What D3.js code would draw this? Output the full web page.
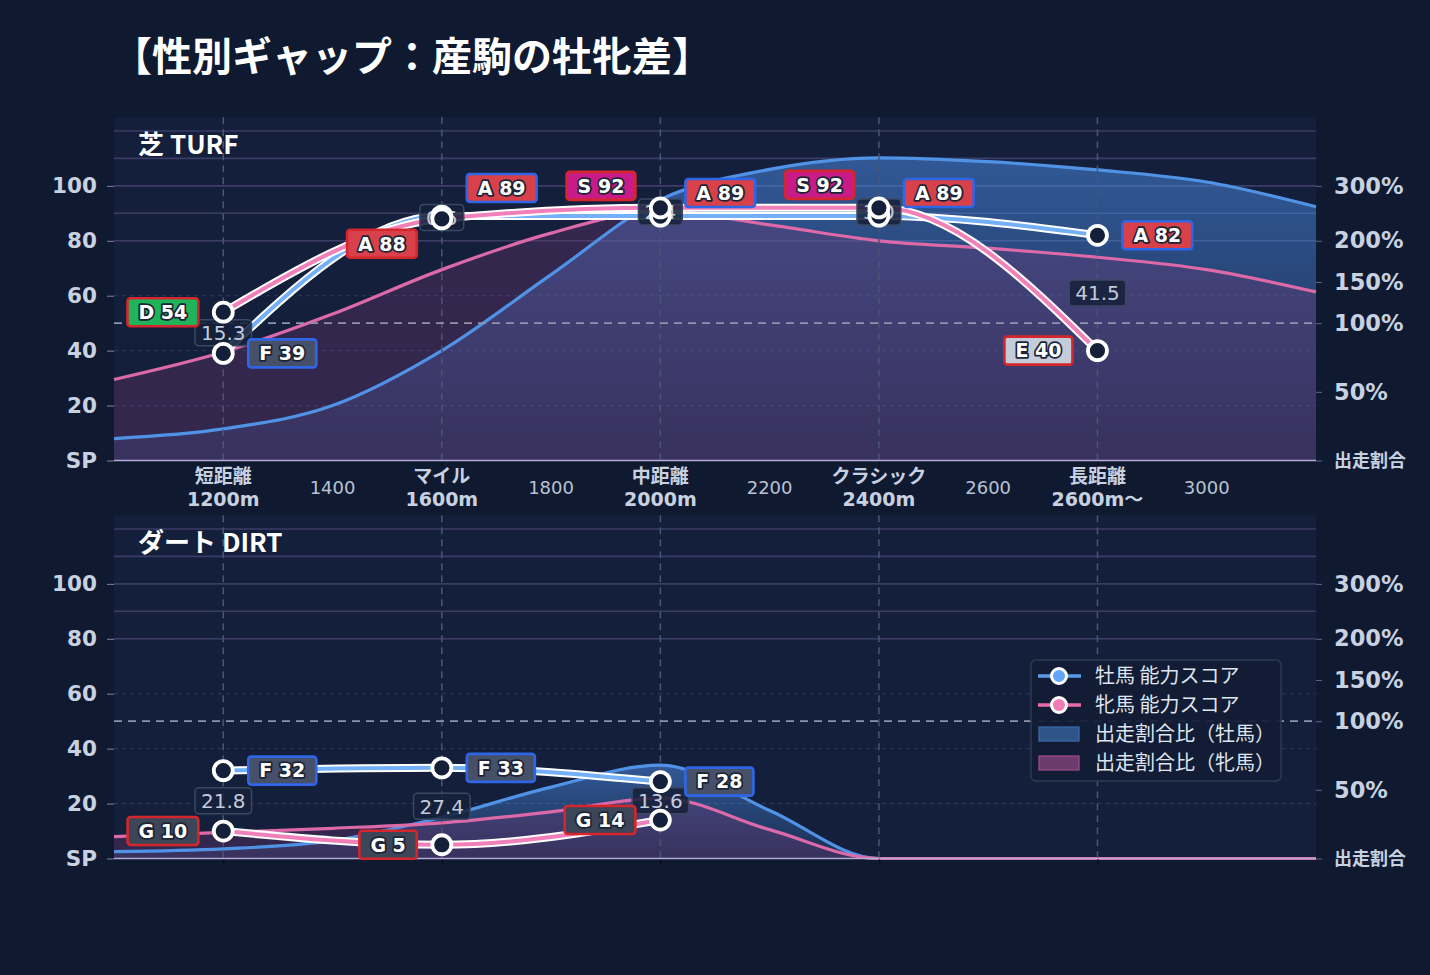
<!DOCTYPE html>
<html><head><meta charset="utf-8">
<script src="https://cdn.jsdelivr.net/npm/d3@7"></script>
<style>
html,body{margin:0;padding:0;background:#0f1a30;}
svg{display:block;}
</style></head>
<body><svg id="chart" width="1430" height="975"></svg>
<script>
// ---------------- DATA ----------------
const categoryDistances = [1200, 1600, 2000, 2400, 2800];
const categoryNames = ["短距離", "マイル", "中距離", "クラシック", "長距離"];
const categoryDistLabels = ["1200m", "1600m", "2000m", "2400m", "2600m〜"];
const minorTicks = [1400, 1800, 2200, 2600, 3000];
const leftTicks = [0, 20, 40, 60, 80, 100];
const leftTickLabels = ["SP", "20", "40", "60", "80", "100"];
const rightTicks = [0, 50, 100, 150, 200, 300];
const rightTickLabels = ["出走割合", "50%", "100%", "150%", "200%", "300%"];
const rightGridTicks = [200, 250, 300, 350, 400];

const turfMaleScore = [39, 89, 89, 89, 82];
const turfMaleGrade = ["F", "A", "A", "A", "A"];
const turfFemaleScore = [54, 88, 92, 92, 40];
const turfFemaleGrade = ["D", "A", "S", "S", "E"];
const turfGap = ["15.3", "0.5", "2.4", "3.0", "41.5"];

const dirtMaleScore = [32, 33, 28, null, null];
const dirtMaleGrade = ["F", "F", "F", null, null];
const dirtFemaleScore = [10, 5, 14, null, null];
const dirtFemaleGrade = ["G", "G", "G", null, null];
const dirtGap = ["21.8", "27.4", "13.6", null, null];

// share ratio (%) read along the distance axis
const shareDistances = [1000, 1200, 1400, 1600, 1800, 2000, 2200, 2400, 2600, 2800, 3000, 3200];
const turfMaleShare = [16, 23, 40, 80, 159, 275, 330, 351, 344, 329, 307, 262];
const turfFemaleShare = [59, 79, 111, 165, 214, 254, 229, 200, 191, 180, 165, 138];
const dirtMaleShare = [5, 7, 13, 30, 52, 68, 35, 0, 0, 0, 0, 0];
const dirtFemaleShare = [16, 19, 22, 26, 34, 44, 21, 0, 0, 0, 0, 0];

const legendLabels = ["牡馬 能力スコア", "牝馬 能力スコア", "出走割合比（牡馬）", "出走割合比（牝馬）"];

// ---------------- LAYOUT / STYLE ----------------
const W = 1430, H = 975;
const PL = 114, PR = 1316;
const FONT_NUM = "'DejaVu Sans', 'Noto Sans CJK JP', sans-serif";
const FONT_JP = "'Noto Sans CJK JP', 'Noto Sans', sans-serif";
const gradeFill = { S: "#c81b88", A: "#d8404a", D: "#1fb45a", E: "#c5ccd9", F: "#465069", G: "#3d4558" };
const MALE_BORDER = "#2f66e8", FEMALE_BORDER = "#d4262c";
const MALE_LINE = "#74b0f7", FEMALE_LINE = "#f17fb9";
const AXIS_TEXT = "#c8d1e0";

const svg = d3.select("#chart");
svg.append("rect").attr("width", W).attr("height", H).attr("fill", "#0f1a30");

const defs = svg.append("defs");
const mg = defs.append("linearGradient").attr("id", "maleGrad").attr("x1", 0).attr("y1", 0).attr("x2", 0).attr("y2", 1);
mg.append("stop").attr("offset", "0%").attr("stop-color", "#4a88e0").attr("stop-opacity", 0.55);
mg.append("stop").attr("offset", "100%").attr("stop-color", "#4a88e0").attr("stop-opacity", 0.14);

svg.append("text").attr("x", 112).attr("y", 71)
  .attr("font-family", FONT_JP).attr("font-weight", 700).attr("font-size", 40)
  .attr("fill", "#ffffff").text("【性別ギャップ：産駒の牡牝差】");

const x = d3.scaleLinear().domain([1000, 3200]).range([PL, PR]);
const shareToUnit = d3.scaleLinear().domain([0, 100, 200, 400]).range([0, 50, 80, 120]);

function gradeLabel(g, cx, cy, text, grade, border, anchorLeft) {
  const grp = g.append("g");
  const t = grp.append("text").attr("font-family", FONT_NUM).attr("font-weight", 700)
    .attr("font-size", 19).attr("fill", "#fff").attr("stroke", "#1c2436").attr("stroke-width", 3.5)
    .attr("stroke-linejoin", "round").attr("paint-order", "stroke").attr("dy", "0.36em").text(text);
  const w = t.node().getComputedTextLength() + 22;
  const bx = anchorLeft ? cx : cx - w;
  grp.insert("rect", "text").attr("x", bx).attr("y", cy - 14).attr("width", w).attr("height", 28)
    .attr("rx", 3).attr("fill", gradeFill[grade]).attr("stroke", border).attr("stroke-width", 2.6);
  t.attr("x", bx + w / 2).attr("y", cy).attr("text-anchor", "middle");
}

function drawPanel(p) {
  const g = svg.append("g");
  const y = d3.scaleLinear().domain([0, 125]).range([p.bottom, p.top]);
  const yRight = d3.scaleLinear().domain(shareToUnit.domain()).range(shareToUnit.range().map(y));

  g.append("rect").attr("x", PL).attr("y", p.top).attr("width", PR - PL).attr("height", p.bottom - p.top)
    .attr("fill", "#131f3b");

  g.selectAll(".lg").data(leftTicks.filter(d => d > 0)).join("line")
    .attr("x1", PL).attr("x2", PR).attr("y1", d => y(d)).attr("y2", d => y(d))
    .attr("stroke", "#2e3c5c").attr("stroke-width", 1).attr("stroke-dasharray", "4,4");
  g.selectAll(".rg").data(rightGridTicks).join("line")
    .attr("x1", PL).attr("x2", PR).attr("y1", d => yRight(d)).attr("y2", d => yRight(d))
    .attr("stroke", "#3b3d66").attr("stroke-width", 1.6);

  const area = d3.area().x(d => x(d.d)).y0(y(0)).y1(d => yRight(d.s)).curve(d3.curveMonotoneX);
  const line = d3.line().x(d => x(d.d)).y(d => yRight(d.s)).curve(d3.curveMonotoneX);
  const mData = shareDistances.map((d, i) => ({ d, s: p.maleShare[i] }));
  const fData = shareDistances.map((d, i) => ({ d, s: p.femaleShare[i] }));
  g.append("path").attr("d", area(mData)).attr("fill", "url(#maleGrad)");
  g.append("path").attr("d", area(fData)).attr("fill", "#6e3773").attr("fill-opacity", 0.36);
  g.append("path").attr("d", line(mData)).attr("fill", "none").attr("stroke", "#5093e6").attr("stroke-width", 3.2);
  g.append("path").attr("d", line(fData)).attr("fill", "none").attr("stroke", "#dc69a8").attr("stroke-width", 3.2);

  g.selectAll(".vl").data(categoryDistances).join("line")
    .attr("x1", d => x(d)).attr("x2", d => x(d)).attr("y1", p.top).attr("y2", p.bottom)
    .attr("stroke", "#4a5573").attr("stroke-width", 1.5).attr("stroke-dasharray", "7,5");
  g.append("line").attr("x1", PL).attr("x2", PR).attr("y1", yRight(100)).attr("y2", yRight(100))
    .attr("stroke", "#8e94ab").attr("stroke-width", 1.8).attr("stroke-dasharray", "8,6");

  const la = g.append("g").attr("transform", `translate(${PL},0)`)
    .call(d3.axisLeft(y).tickValues(leftTicks).tickFormat((d, i) => leftTickLabels[i]).tickSize(7).tickPadding(10));
  la.select(".domain").remove();
  la.selectAll("line").attr("stroke", "#7d869c");
  la.selectAll("text").attr("font-family", FONT_NUM).attr("font-weight", 700).attr("font-size", 21.5).attr("fill", AXIS_TEXT);

  const ra = g.append("g").attr("transform", `translate(${PR},0)`)
    .call(d3.axisRight(yRight).tickValues(rightTicks).tickFormat((d, i) => rightTickLabels[i]).tickSize(6).tickPadding(12));
  ra.select(".domain").remove();
  ra.selectAll("line").attr("stroke", "#5d6680");
  ra.selectAll("text").attr("font-family", FONT_NUM).attr("font-weight", 700).attr("font-size", 22.5).attr("fill", AXIS_TEXT);
  ra.selectAll("text").filter(d => d === 0).attr("font-family", FONT_JP).attr("font-size", 18);

  const ba = g.append("g").attr("transform", `translate(0,${p.bottom})`)
    .call(d3.axisBottom(x).tickValues(categoryDistances).tickSize(6).tickFormat(""));
  ba.select(".domain").remove();
  ba.selectAll("line").attr("stroke", "#0a0f1d").attr("stroke-width", 1.5);
  g.append("line").attr("x1", PL).attr("x2", PR).attr("y1", p.bottom).attr("y2", p.bottom)
    .attr("stroke", "#b3acd6").attr("stroke-width", 1.5);

  if (p.xLabels) {
    g.selectAll(".cn").data(categoryDistances).join("text")
      .attr("x", d => x(d)).attr("y", p.bottom + 22).attr("text-anchor", "middle")
      .attr("font-family", FONT_JP).attr("font-weight", 700).attr("font-size", 19).attr("fill", AXIS_TEXT)
      .text((d, i) => categoryNames[i]);
    g.selectAll(".cd").data(categoryDistances).join("text")
      .attr("x", d => x(d)).attr("y", p.bottom + 45).attr("text-anchor", "middle")
      .attr("font-family", FONT_NUM).attr("font-weight", 700).attr("font-size", 19).attr("fill", AXIS_TEXT)
      .text((d, i) => categoryDistLabels[i]);
    g.selectAll(".mn").data(minorTicks).join("text")
      .attr("x", d => x(d)).attr("y", p.bottom + 33).attr("text-anchor", "middle")
      .attr("font-family", FONT_NUM).attr("font-size", 18).attr("fill", "#b9c2d3")
      .text(d => d);
  }

  const sLine = d3.line().defined(d => d.v != null).x(d => x(d.d)).y(d => y(d.v)).curve(d3.curveMonotoneX);
  const ms = categoryDistances.map((d, i) => ({ d, v: p.maleScore[i] }));
  const fs = categoryDistances.map((d, i) => ({ d, v: p.femaleScore[i] }));
  [[ms, MALE_LINE], [fs, FEMALE_LINE]].forEach(([data, col]) => {
    g.append("path").attr("d", sLine(data)).attr("fill", "none").attr("stroke", "#ffffff").attr("stroke-width", 8);
    g.append("path").attr("d", sLine(data)).attr("fill", "none").attr("stroke", col).attr("stroke-width", 4);
  });

  categoryDistances.forEach((d, i) => {
    if (p.gap[i] == null) return;
    const cy = (y(p.maleScore[i]) + y(p.femaleScore[i])) / 2;
    const grp = g.append("g");
    const t = grp.append("text").attr("x", x(d)).attr("y", cy).attr("dy", "0.36em").attr("text-anchor", "middle")
      .attr("font-family", FONT_NUM).attr("font-size", 20).attr("fill", "#c3cbdb").text(p.gap[i]);
    const w = t.node().getComputedTextLength() + 12;
    grp.insert("rect", "text").attr("x", x(d) - w / 2).attr("y", cy - 13).attr("width", w).attr("height", 26)
      .attr("rx", 4).attr("fill", "#16213b").attr("fill-opacity", 0.88).attr("stroke", "#3b4863").attr("stroke-width", 1.5);
  });

  [ms, fs].forEach(data => {
    g.selectAll(null).data(data.filter(d => d.v != null)).join("circle")
      .attr("cx", d => x(d.d)).attr("cy", d => y(d.v)).attr("r", 9.5)
      .attr("fill", "#14203a").attr("stroke", "#ffffff").attr("stroke-width", 3.8);
  });

  categoryDistances.forEach((d, i) => {
    if (p.maleScore[i] != null)
      gradeLabel(g, x(d) + 25, y(p.maleScore[i]) + p.maleDy[i], `${p.maleGrade[i]} ${p.maleScore[i]}`, p.maleGrade[i], MALE_BORDER, true);
    if (p.femaleScore[i] != null)
      gradeLabel(g, x(d) - 25, y(p.femaleScore[i]) + p.femaleDy[i], `${p.femaleGrade[i]} ${p.femaleScore[i]}`, p.femaleGrade[i], FEMALE_BORDER, false);
  });

  g.append("text").attr("x", 138).attr("y", p.top + 37)
    .attr("font-family", FONT_JP).attr("font-weight", 700).attr("font-size", 26).attr("fill", "#ffffff")
    .text(p.title);
}

drawPanel({
  top: 117.2, bottom: 460.5, title: "芝 TURF", xLabels: true,
  maleScore: turfMaleScore, maleGrade: turfMaleGrade, femaleScore: turfFemaleScore, femaleGrade: turfFemaleGrade,
  gap: turfGap, maleShare: turfMaleShare, femaleShare: turfFemaleShare,
  maleDy: [0, -28, -23, -23, 0], femaleDy: [0, 25, -22, -23, 0]
});
drawPanel({
  top: 515.2, bottom: 858.5, title: "ダート DIRT", xLabels: false,
  maleScore: dirtMaleScore, maleGrade: dirtMaleGrade, femaleScore: dirtFemaleScore, femaleGrade: dirtFemaleGrade,
  gap: dirtGap, maleShare: dirtMaleShare, femaleShare: dirtFemaleShare,
  maleDy: [0, 0, 0, 0, 0], femaleDy: [0, 0, 0, 0, 0]
});

const lg = svg.append("g");
lg.append("rect").attr("x", 1031).attr("y", 660).attr("width", 250).attr("height", 121).attr("rx", 5)
  .attr("fill", "#121c34").attr("fill-opacity", 0.92).attr("stroke", "#2f3a52").attr("stroke-width", 1.5);
const legendRows = [676, 705, 734, 763];
[["#5b9be8", "#62a4f5"], ["#e86aa8", "#f07ab8"]].forEach(([lc, mc], i) => {
  lg.append("line").attr("x1", 1038).attr("x2", 1081).attr("y1", legendRows[i]).attr("y2", legendRows[i])
    .attr("stroke", lc).attr("stroke-width", 3.5);
  lg.append("circle").attr("cx", 1059).attr("cy", legendRows[i]).attr("r", 7.5)
    .attr("fill", mc).attr("stroke", "#fff").attr("stroke-width", 3);
});
[["#2f5488", "#3d6db3"], ["#6a3b6c", "#a34d8e"]].forEach(([fc, sc], i) => {
  lg.append("rect").attr("x", 1039).attr("y", legendRows[i + 2] - 7).attr("width", 40).attr("height", 14)
    .attr("fill", fc).attr("stroke", sc).attr("stroke-width", 1.2);
});
lg.selectAll(".lt").data(legendLabels).join("text")
  .attr("x", 1095).attr("y", (d, i) => legendRows[i]).attr("dy", "0.36em")
  .attr("font-family", FONT_JP).attr("font-size", 20).attr("fill", "#dfe4ee").text(d => d);
</script>
</body></html>
